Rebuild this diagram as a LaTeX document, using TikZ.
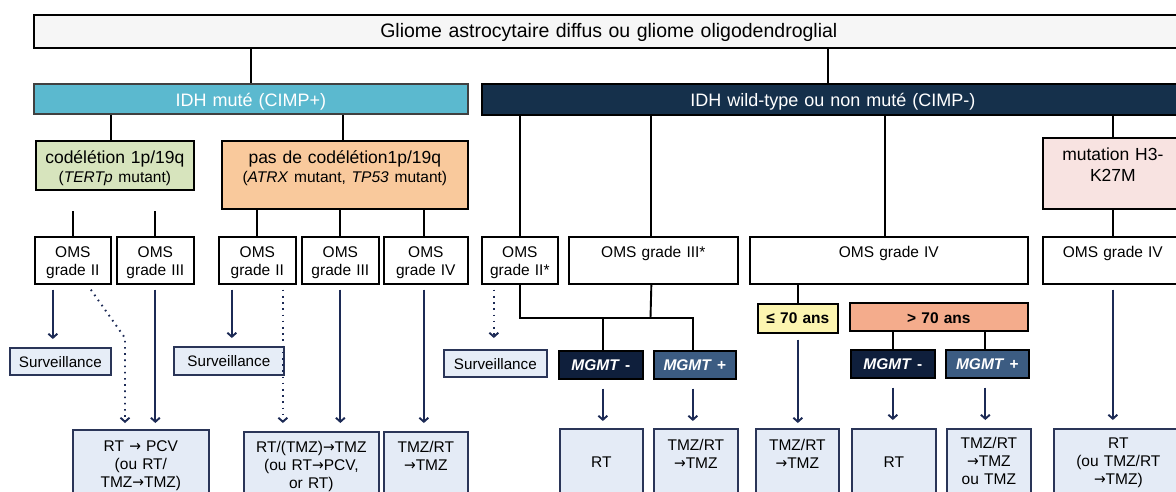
\documentclass[tikz,border=0pt]{standalone}
\usepackage{fontspec}
\setmainfont{Liberation Sans}
\newfontfamily\arrowfont{DejaVu Sans}
\newcommand\rarr{{\arrowfont\scalebox{0.9}[1]{→}}}
\usetikzlibrary{arrows.meta}
\definecolor{ttlfill}{HTML}{F6F6F6}
\definecolor{idhmfill}{HTML}{5BB9CF}
\definecolor{idhwtfill}{HTML}{15304B}
\definecolor{codelfill}{HTML}{D7E4BD}
\definecolor{pascfill}{HTML}{F9C99C}
\definecolor{mutfill}{HTML}{F8E3E1}
\definecolor{agelowfill}{HTML}{FCF5B0}
\definecolor{agehighfill}{HTML}{F4AC8C}
\definecolor{mgmfill}{HTML}{0F1F3C}
\definecolor{mgpfill}{HTML}{3C5C82}
\definecolor{survfill}{HTML}{E6EDF7}
\definecolor{botfill}{HTML}{E4EBF6}
\definecolor{navy}{HTML}{1C2A55}
\definecolor{botdraw}{HTML}{2A3558}
\newcommand\bnode[8]{%
  \pgfmathsetmacro\bnw{#5-#3}%
  \pgfmathsetmacro\bnh{#6-#4}%
  \pgfmathsetmacro\bnd{#6-#4-#7}%
  \node[#2, anchor=north west, inner sep=0pt, text width=\bnw pt, align=center,
        text height=#7pt, text depth=\bnd pt, minimum width=\bnw pt,
        minimum height=\bnh pt] (#1) at (#3,#4) {#8};}
\tikzset{
  bx/.style={draw=black, line width=1.7pt},
  ttlbox/.style={bx, fill=ttlfill, font=\fontsize{19.5}{22}\selectfont},
  idhmbox/.style={bx, draw=black!75, fill=idhmfill, text=white, font=\fontsize{18}{21}\selectfont},
  idhwtbox/.style={bx, fill=idhwtfill, text=white, font=\fontsize{18}{21}\selectfont},
  hdrbox/.style={bx, font=\fontsize{17.5}{19}\selectfont},
  omsbox/.style={bx, fill=white, font=\fontsize{15.5}{18}\selectfont},
  survbox/.style={bx, draw=botdraw, fill=survfill, font=\fontsize{15.2}{18}\selectfont},
  agebox/.style={bx, font=\bfseries\fontsize{15.5}{18}\selectfont},
  mgmtbox/.style={bx, text=white, font=\bfseries\fontsize{15.5}{18}\selectfont},
  botbox/.style={bx, draw=botdraw, fill=botfill, font=\fontsize{15.5}{18}\selectfont},
  link/.style={line width=1.9pt, black},
  arr/.style={line width=1.9pt, navy, -{Straight Barb[length=4pt,width=9pt]}},
  darr/.style={arr, dash pattern=on 1.6pt off 4.6pt},
}
\begin{document}
\begin{tikzpicture}[x=1pt,y=-1pt]
\useasboundingbox (0,0) rectangle (1176,492);
\clip (0,0) rectangle (1176,492);
\fill[white] (0,0) rectangle (1176,492);
% top levels
\bnode{ttl}{ttlbox}{33}{14}{1183}{47}{23}{Gliome astrocytaire diffus ou gliome oligodendroglial}
\bnode{idhm}{idhmbox}{33}{83}{467}{113}{23}{IDH muté (CIMP+)}
\bnode{idhwt}{idhwtbox}{481}{83}{1183}{114}{23}{IDH wild-type ou non muté (CIMP-)}
% second level
\bnode{codel}{hdrbox, fill=codelfill}{35}{140}{193}{189}{23}{codélétion 1p/19q\\{\fontsize{15.5}{19}\selectfont(\textit{TERTp} mutant)}}
\bnode{pasc}{hdrbox, fill=pascfill}{221}{140}{467}{208}{23}{pas de codélétion1p/19q\\{\fontsize{15.5}{19}\selectfont(\textit{ATRX} mutant, \textit{TP53} mutant)}}
\bnode{mut}{hdrbox, fill=mutfill, font=\fontsize{17.5}{21}\selectfont}{1042}{137}{1182}{208}{23}{mutation H3-\\K27M}
% OMS row
\bnode{omsA}{omsbox}{34}{236}{110}{283}{21}{OMS\\grade II}
\bnode{omsB}{omsbox}{116}{236}{193}{283}{21}{OMS\\grade III}
\bnode{omsC}{omsbox}{218}{236}{295}{283}{21}{OMS\\grade II}
\bnode{omsD}{omsbox}{301}{236}{378}{283}{21}{OMS\\grade III}
\bnode{omsE}{omsbox}{383}{236}{467}{283}{21}{OMS\\grade IV}
\bnode{omsF}{omsbox}{481}{236}{557}{283}{21}{OMS\\grade II*}
\bnode{omsG}{omsbox}{568}{236}{737}{283}{21}{OMS grade III*}
\bnode{omsH}{omsbox}{749}{236}{1027}{283}{21}{OMS grade IV}
\bnode{omsI}{omsbox}{1042}{236}{1182}{283}{21}{OMS grade IV}
% surveillance
\bnode{survA}{survbox}{9}{347}{110}{374}{19.5}{Surveillance}
\bnode{survB}{survbox}{173}{346}{283}{374}{19.5}{Surveillance}
\bnode{survC}{survbox}{443}{349}{546}{376}{19.5}{Surveillance}
% age
\bnode{ageLow}{agebox, fill=agelowfill}{757}{303}{837}{332}{20}{≤ 70 ans}
\bnode{ageHigh}{agebox, fill=agehighfill}{849}{302}{1027}{330}{21}{> 70 ans}
% MGMT
\bnode{mgmA}{mgmtbox, fill=mgmfill}{558}{350}{642}{378}{20}{\textit{MGMT} -}
\bnode{mgpA}{mgmtbox, fill=mgpfill}{653}{350}{735}{378}{20}{\textit{MGMT} +}
\bnode{mgmB}{mgmtbox, fill=mgmfill}{850}{349}{934}{377}{20}{\textit{MGMT} -}
\bnode{mgpB}{mgmtbox, fill=mgpfill}{945}{349}{1028}{377}{20}{\textit{MGMT} +}
% bottom treatments
\bnode{bA}{botbox}{72}{429}{208}{512}{22}{RT \rarr{} PCV\\(ou RT/\\TMZ\rarr TMZ)}
\bnode{bB}{botbox}{243}{431}{378}{512}{21}{RT/(TMZ)\rarr TMZ\\(ou RT\rarr PCV,\\or RT)}
\bnode{bC}{botbox}{383}{431}{467}{512}{21}{TMZ/RT\\\rarr TMZ}
\bnode{bD}{botbox}{559}{428}{642}{512}{39}{RT}
\bnode{bE}{botbox}{653}{428}{737}{512}{22}{TMZ/RT\\\rarr TMZ}
\bnode{bF}{botbox}{755}{428}{838}{512}{22}{TMZ/RT\\\rarr TMZ}
\bnode{bG}{botbox}{851}{428}{935}{512}{39}{RT}
\bnode{bH}{botbox}{946}{428}{1030}{512}{20}{TMZ/RT\\\rarr TMZ\\ou TMZ}
\bnode{bI}{botbox}{1053}{428}{1182}{512}{20}{RT\\(ou TMZ/RT\\\rarr TMZ)}
% black connectors
\draw[link] (idhm.north) -- (idhm.north |- ttl.south);
\draw[link] ([xshift=-5pt]idhwt.north) -- ([xshift=-5pt]idhwt.north |- ttl.south);
\draw[link] ([xshift=-4pt]codel.north) -- ([xshift=-4pt]codel.north |- idhm.south);
\draw[link] ([xshift=-2pt]pasc.north) -- ([xshift=-2pt]pasc.north |- idhm.south);
\draw[link] (omsA.north) -- ([yshift=-20pt]omsA.north |- codel.south);
\draw[link] (omsB.north) -- ([yshift=-20pt]omsB.north |- codel.south);
\draw[link] (omsC.north) -- (omsC.north |- pasc.south);
\draw[link] (omsD.north) -- (omsD.north |- pasc.south);
\draw[link] ([xshift=-2pt]omsE.north) -- ([xshift=-2pt]omsE.north |- pasc.south);
\draw[link] (omsF.north) -- (omsF.north |- idhwt.south);
\draw[link] ([xshift=-2pt]omsG.north) -- ([xshift=-2pt]omsG.north |- idhwt.south);
\draw[link] ([xshift=-4pt]omsH.north) -- ([xshift=-4pt]omsH.north |- idhwt.south);
\draw[link] (mut.north) -- (mut.north |- idhwt.south);
\draw[link] (mut.south) -- (omsI.north);
\coordinate (join) at (650.5,318);
\draw[link] (omsF.south) |- ([xshift=-2pt]mgpA.north |- join) -- ([xshift=-2pt]mgpA.north);
\draw[link] ([xshift=-2pt]omsG.south) -- (join);
\draw[link] ([xshift=2pt]mgmA.north) -- ([xshift=2pt]mgmA.north |- join);
\draw[link] (ageLow.north) -- (ageLow.north |- omsH.south);
\draw[link] (mgmB.north) -- (mgmB.north |- ageHigh.south);
\draw[link] ([xshift=-2pt]mgpB.north) -- ([xshift=-2pt]mgpB.north |- ageHigh.south);
% arrows
\draw[arr] ([xshift=-20pt,yshift=-5pt]omsA.south) -- ([xshift=-20pt,yshift=8pt]omsA.south |- survA.north);
\coordinate (bend) at (125,338);
\draw[darr] ([xshift=18pt,yshift=-5pt]omsA.south) -- (bend) -- ([yshift=6pt]bend |- bA.north);
\draw[arr] ([yshift=-5pt]omsB.south) -- ([yshift=6pt]omsB.south |- bA.north);
\draw[arr] ([xshift=-25.5pt,yshift=-5pt]omsC.south) -- ([xshift=-25.5pt,yshift=8pt]omsC.south |- survB.north);
\draw[darr] ([xshift=25.5pt,yshift=-5pt]omsC.south) -- ([xshift=25.5pt,yshift=8pt]omsC.south |- bB.north);
\draw[arr] ([yshift=-5pt]omsD.south) -- ([yshift=8pt]omsD.south |- bB.north);
\draw[arr] ([xshift=-2pt,yshift=-5pt]omsE.south) -- ([xshift=-2pt,yshift=8pt]omsE.south |- bC.north);
\draw[darr] ([xshift=-26pt,yshift=-5pt]omsF.south) -- ([xshift=-26pt,yshift=11pt]omsF.south |- survC.north);
\draw[arr] ([xshift=2pt,yshift=-9pt]mgmA.south) -- ([xshift=2pt,yshift=7pt]mgmA.south |- bD.north);
\draw[arr] ([xshift=-2pt,yshift=-9pt]mgpA.south) -- ([xshift=-2pt,yshift=7pt]mgpA.south |- bE.north);
\draw[arr] ([yshift=-6pt]ageLow.south) -- ([yshift=5pt]ageLow.south |- bF.north);
\draw[arr] ([yshift=-9pt]mgmB.south) -- ([yshift=8pt]mgmB.south |- bG.north);
\draw[arr] ([xshift=-2pt,yshift=-9pt]mgpB.south) -- ([xshift=-2pt,yshift=8pt]mgpB.south |- bH.north);
\draw[arr] ([yshift=-5pt]omsI.south) -- ([yshift=8pt]omsI.south |- bI.north);
\end{tikzpicture}
\end{document}
